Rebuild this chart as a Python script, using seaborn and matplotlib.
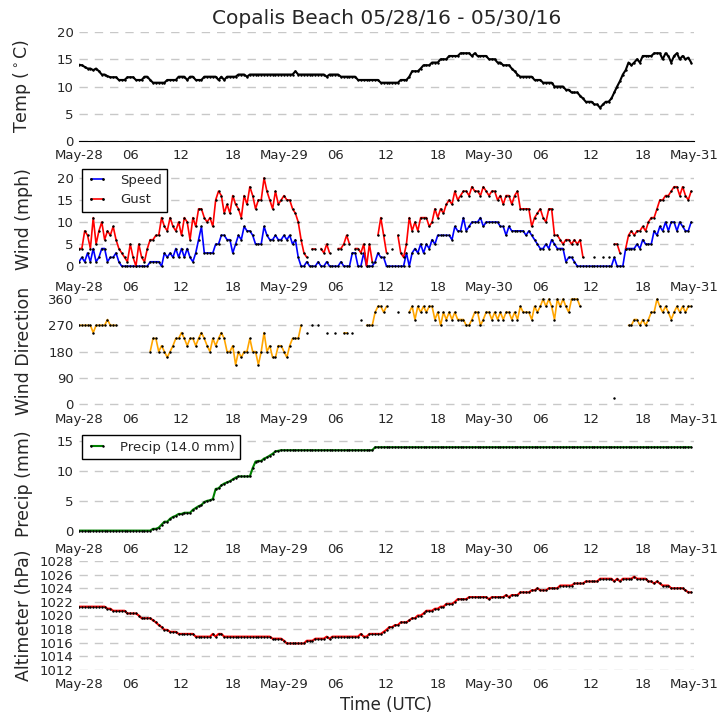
import numpy as np
import pandas as pd
import matplotlib
matplotlib.use('Agg')
import matplotlib.pyplot as plt
import matplotlib.dates as mdates
from matplotlib.lines import Line2D
import seaborn as sns

nan = np.nan

# 20-minute observations, May-28 00:00 UTC to May-30 23:40 UTC, one line = 6 hours
temp = [
    14.0, 13.9, 13.6, 13.3, 13.3, 13.0, 13.3, 12.8, 12.2, 12.2, 11.9, 11.7, 11.7, 11.7, 11.2, 11.2, 11.2, 11.7,
    11.7, 11.7, 11.2, 11.2, 11.2, 11.8, 11.8, 11.2, 10.7, 10.7, 10.7, 10.7, 10.7, 11.2, 11.2, 11.2, 11.2, 11.8,
    11.8, 11.8, 11.2, 11.8, 11.8, 11.2, 11.2, 11.2, 11.8, 11.8, 11.8, 11.8, 11.8, 11.2, 11.8, 11.2, 11.8, 11.8,
    11.8, 11.8, 12.2, 12.2, 12.2, 11.8, 12.2, 12.2, 12.2, 12.2, 12.2, 12.2, 12.2, 12.2, 12.2, 12.2, 12.2, 12.2,
    12.2, 12.2, 12.2, 12.2, 12.8, 12.2, 12.2, 12.2, 12.2, 12.2, 12.2, 12.2, 12.2, 12.2, 12.2, 11.8, 12.2, 12.2,
    12.2, 12.2, 11.8, 11.8, 11.8, 11.8, 11.8, 11.8, 11.2, 11.2, 11.2, 11.2, 11.2, 11.2, 11.2, 11.2, 10.7, 10.7,
    10.7, 10.7, 10.7, 10.7, 10.7, 11.2, 11.2, 11.2, 11.8, 12.8, 12.8, 12.8, 13.3, 13.9, 13.9, 13.9, 14.4, 14.4,
    14.4, 15.0, 15.0, 15.0, 15.6, 15.6, 15.6, 15.6, 16.1, 16.1, 16.1, 16.1, 15.6, 16.1, 15.6, 15.6, 15.6, 15.6,
    15.0, 15.0, 15.0, 14.4, 14.4, 13.9, 13.9, 13.9, 13.3, 12.8, 12.2, 11.8, 11.8, 11.8, 11.8, 11.8, 11.2, 11.2,
    11.2, 10.7, 10.7, 10.7, 10.7, 10.0, 10.0, 10.0, 10.0, 9.4, 9.4, 8.9, 8.9, 8.9, 8.3, 7.8, 7.2, 7.2,
    7.2, 6.7, 6.7, 6.1, 6.7, 7.2, 7.2, 7.8, 8.9, 10.0, 11.0, 12.2, 13.0, 14.4, 13.9, 14.4, 15.0, 14.4,
    15.6, 15.6, 15.6, 15.6, 16.1, 16.1, 16.1, 15.0, 16.1, 15.6, 14.4, 15.6, 16.1, 15.0, 15.6, 15.0, 15.3, 14.4,
]

speed = [
    1, 2, 1, 3, 1, 4, 1, 2, 4, 4, 1, 2, 2, 3, 1, 0, 0, 0,
    0, 0, 0, 0, 0, 0, 0, 1, 1, 1, 1, 0, 3, 2, 3, 2, 4, 2,
    4, 2, 4, 2, 1, 3, 6, 9, 3, 3, 3, 3, 5, 5, 7, 7, 6, 6,
    3, 5, 7, 6, 9, 8, 8, 7, 5, 5, 5, 9, 7, 6, 6, 7, 6, 6,
    7, 6, 7, 5, 6, 2, 0, 0, 1, 0, 0, 0, 1, 0, 0, 1, 0, 0,
    0, 0, 1, 0, 0, 0, 3, 3, 0, 0, 3, 0, 0, 0, 1, 3, 2, 2,
    0, 0, 0, 0, 0, 0, 0, 3, 0, 3, 4, 3, 5, 3, 5, 4, 6, 5,
    7, 7, 7, 7, 7, 6, 9, 8, 8, 11, 8, 9, 10, 10, 10, 11, 9, 10,
    10, 10, 10, 10, 9, 9, 7, 9, 8, 8, 8, 8, 8, 7, 8, 7, 6, 5,
    4, 4, 5, 4, 6, 5, 4, 4, 4, 1, 2, 2, 1, 0, 0, 0, 0, 0,
    0, 0, 0, 0, 0, 0, 0, 0, 2, 0, 0, 0, 4, 4, 4, 4, 5, 4,
    6, 5, 5, 5, 8, 7, 9, 8, 10, 8, 10, 10, 8, 10, 9, 8, 8, 10,
]

gust = [
    4, 4, 8, 7, 4, 11, 5, 8, 10, 6, 8, 7, 9, 6, 4, 3, 2, 1,
    5, 2, 0, 5, 2, 1, 4, 6, 6, 7, 7, 11, 9, 8, 11, 9, 8, 10,
    7, 11, 10, 6, 11, 9, 13, 13, 11, 10, 11, 9, 15, 17, 16, 12, 14, 12,
    16, 14, 13, 11, 16, 14, 18, 16, 13, 15, 15, 20, 17, 15, 13, 17, 14, 15,
    16, 15, 15, 13, 12, 10, 6, 3, 2, nan, 4, 4, nan, 4, 3, 5, 3, nan,
    nan, 4, 4, 5, 7, 5, nan, 4, 4, 3, 5, 0, 5, 1, nan, 7, 11, 7,
    3, nan, 4, nan, 7, 3, 2, 5, 11, 8, 10, 8, 11, 11, 11, 9, 10, 13,
    11, 13, 12, 14, 15, 14, 17, 15, 16, 17, 17, 16, 18, 17, 17, 16, 18, 17,
    16, 17, 17, 15, 16, 14, 16, 16, 14, 16, 17, 13, 13, 13, 13, 9, 11, 12,
    13, 11, 10, 13, 13, 7, 7, 6, 5, 6, 6, 5, 6, 5, 6, 2, nan, nan,
    nan, 2, nan, nan, 2, nan, 2, nan, 5, 5, 3, nan, 4, 7, 8, 7, 8, 8,
    9, 8, 10, 11, 11, 13, 15, 15, 16, 16, 17, 18, 18, 16, 18, 16, 15, 17,
]

wdir = [
    270, 270, 270, 270, 270, 245, 270, 270, 270, 270, 290, 270, 270, 270, nan, nan, nan, nan,
    nan, nan, nan, nan, nan, nan, nan, 180, 225, 225, 180, 200, 180, 160, 180, 200, 225, 225,
    245, 225, 200, 225, 225, 200, 225, 245, 225, 200, 180, 225, 200, 225, 245, 225, 180, 180,
    200, 135, 180, 160, 180, 180, 225, 180, 180, 135, 180, 245, 180, 200, 160, 160, 200, 200,
    180, 160, 200, 225, 225, 225, 270, nan, 245, nan, 270, nan, 270, nan, nan, 245, nan, nan,
    245, nan, nan, 245, 245, nan, 245, nan, nan, 290, nan, 270, 270, 270, 315, 335, 335, 315,
    335, nan, nan, nan, 315, nan, nan, nan, 315, 335, 290, 335, 315, 335, 315, 335, 335, 290,
    315, 270, 315, 290, 315, 290, 315, 290, 290, 290, 270, 270, 290, 315, 315, 270, 290, 315,
    315, 290, 315, 290, 315, 290, 315, 315, 290, 315, 290, 335, 315, 315, 315, 290, 335, 315,
    335, 360, 335, 360, 335, 290, 360, 335, 360, 335, 315, 360, 360, 360, 335, nan, nan, nan,
    nan, nan, nan, nan, nan, nan, nan, nan, 22, nan, nan, nan, nan, 270, 270, 290, 290, 270,
    290, 270, 290, 315, 315, 360, 335, 315, 335, 315, 290, 315, 335, 315, 335, 315, 335, 335,
]

precip = (
    [0.0] * 18
    + [0.0, 0.0, 0.0, 0.0, 0.0, 0.0, 0.0, 0.0, 0.3, 0.3, 0.5, 1.0, 1.5, 1.5, 2.0, 2.3, 2.5, 2.8]
    + [2.8, 3.0, 3.0, 3.0, 3.5, 3.8, 4.1, 4.3, 4.8, 5.0, 5.1, 5.3, 7.0, 7.1, 7.6, 7.9, 8.1, 8.3]
    + [8.6, 8.9, 9.1, 9.1, 9.1, 9.1, 9.1, 10.5, 11.6, 11.7, 11.7, 12.1, 12.3, 12.6, 12.9, 13.3, 13.4, 13.5]
    + [13.5] * 18
    + [13.5] * 14 + [14.0] * 4
    + [14.0] * 108
)

altim = [
    1021.3, 1021.3, 1021.3, 1021.3, 1021.3, 1021.3, 1021.3, 1021.3, 1021.3, 1021.3, 1021.0, 1021.0, 1020.7, 1020.7, 1020.7, 1020.7, 1020.7, 1020.3,
    1020.3, 1020.3, 1020.3, 1020.0, 1019.6, 1019.6, 1019.6, 1019.6, 1019.3, 1019.0, 1018.6, 1018.3, 1017.9, 1017.9, 1017.6, 1017.6, 1017.6, 1017.3,
    1017.3, 1017.3, 1017.3, 1017.3, 1017.3, 1016.9, 1016.9, 1016.9, 1016.9, 1016.9, 1016.9, 1017.3, 1016.9, 1017.3, 1017.3, 1016.9, 1016.9, 1016.9,
    1016.9, 1016.9, 1016.9, 1016.9, 1016.9, 1016.9, 1016.9, 1016.9, 1016.9, 1016.9, 1016.9, 1016.9, 1016.9, 1016.9, 1016.6, 1016.6, 1016.6, 1016.6,
    1016.3, 1015.9, 1015.9, 1015.9, 1015.9, 1015.9, 1015.9, 1015.9, 1016.3, 1016.3, 1016.3, 1016.6, 1016.6, 1016.6, 1016.6, 1016.9, 1016.6, 1016.9,
    1016.9, 1016.9, 1016.9, 1016.9, 1016.9, 1016.9, 1016.9, 1016.9, 1016.9, 1017.3, 1016.9, 1016.9, 1017.3, 1017.3, 1017.3, 1017.3, 1017.3, 1017.6,
    1017.9, 1018.3, 1018.3, 1018.6, 1018.6, 1019.0, 1019.0, 1019.0, 1019.3, 1019.6, 1019.6, 1020.0, 1020.0, 1020.3, 1020.7, 1020.7, 1020.7, 1021.0,
    1021.0, 1021.3, 1021.3, 1021.7, 1021.7, 1021.7, 1022.0, 1022.4, 1022.4, 1022.4, 1022.4, 1022.7, 1022.7, 1022.7, 1022.7, 1022.7, 1022.7, 1022.7,
    1022.4, 1022.7, 1022.7, 1022.7, 1022.7, 1022.7, 1023.0, 1022.7, 1023.0, 1023.0, 1023.0, 1023.4, 1023.4, 1023.4, 1023.4, 1023.7, 1023.7, 1024.0,
    1023.7, 1023.7, 1023.7, 1024.0, 1024.0, 1024.0, 1024.0, 1024.4, 1024.4, 1024.4, 1024.4, 1024.4, 1024.7, 1024.7, 1024.7, 1024.7, 1025.0, 1025.0,
    1025.0, 1025.0, 1025.0, 1025.4, 1025.4, 1025.4, 1025.4, 1025.4, 1025.0, 1025.4, 1025.0, 1025.4, 1025.4, 1025.4, 1025.4, 1025.7, 1025.4, 1025.4,
    1025.4, 1025.4, 1025.0, 1025.0, 1024.7, 1025.0, 1024.7, 1024.4, 1024.4, 1024.4, 1024.0, 1024.0, 1024.0, 1024.0, 1024.0, 1023.7, 1023.4, 1023.4,
]

times = pd.date_range('2016-05-28 00:00', periods=len(temp), freq='20min')
df = pd.DataFrame({'time': times, 'temp': temp, 'speed': speed, 'gust': gust,
                   'wdir': wdir, 'precip': precip, 'altim': altim})

sns.set_style('white')
plt.rcParams['font.family'] = ['DejaVu Sans']

fig = plt.figure(figsize=(7.27, 7.25), dpi=100)

# axes rectangles in figure pixels (bottom from top edge), equal spacing
left, width, height = 79 / 727, 615 / 727, 109 / 725
bottoms = [141, 273.25, 405.5, 537.75, 670]
axes = [fig.add_axes([left, 1 - b / 725, width, height]) for b in bottoms]

mk = dict(marker='.', markersize=2, markerfacecolor='k', markeredgecolor='k')


def gapped(ax, col, color, lw=1.2):
    # missing obs break the line: one seaborn unit per unbroken run
    d = df[['time', col]].copy()
    d['run'] = d[col].isna().cumsum()
    d = d.dropna()
    sns.lineplot(data=d, x='time', y=col, units='run', estimator=None, ax=ax,
                 color=color, lw=lw, legend=False, **mk)


def tick_fmt(x, pos=None):
    d = mdates.num2date(x)
    if d.hour == 0:
        return d.strftime('%b-%d')
    return d.strftime('%H')


leg_kw = dict(loc='upper left', borderaxespad=0, numpoints=2, fancybox=False,
              framealpha=1, edgecolor='k', fontsize=9.5, handlelength=1.5, handletextpad=1.0)

# temperature
ax = axes[0]
sns.lineplot(data=df, x='time', y='temp', ax=ax, color='k', lw=1.5, **mk)
ax.set_ylim(0, 20)
ax.set_yticks([0, 5, 10, 15, 20])
ax.set_ylabel('Temp ($^\\circ$C)', fontsize=12.5)
ax.set_title('Copalis Beach 05/28/16 - 05/30/16', fontsize=14.5, pad=6)

# wind speed / gust
ax = axes[1]
gapped(ax, 'speed', 'blue')
gapped(ax, 'gust', 'red')
ax.set_ylim(-1.6, 23.1)
ax.set_yticks([0, 5, 10, 15, 20])
ax.set_ylabel('Wind (mph)', fontsize=12.5)
handles = [Line2D([], [], color=c, lw=1.2, **mk) for c in ['blue', 'red']]
ax.legend(handles, ['Speed', 'Gust'], bbox_to_anchor=(0.005, 0.96), **leg_kw)

# wind direction
ax = axes[2]
gapped(ax, 'wdir', 'orange')
ax.set_ylim(-5, 369)
ax.set_yticks([0, 90, 180, 270, 360])
ax.set_ylabel('Wind Direction', fontsize=12.5)

# precipitation
ax = axes[3]
sns.lineplot(data=df, x='time', y='precip', ax=ax, color='green', lw=1.5,
             label='Precip (%.1f mm)' % precip[-1], **mk)
ax.set_ylim(-1.2, 17.1)
ax.set_yticks([0, 5, 10, 15])
ax.set_ylabel('Precip (mm)', fontsize=12.5)
ax.legend(bbox_to_anchor=(0.005, 0.94), **leg_kw)

# altimeter
ax = axes[4]
sns.lineplot(data=df, x='time', y='altim', ax=ax, color='red', lw=1.5, **mk)
ax.set_ylim(1012, 1028)
ax.set_yticks(np.arange(1012, 1029, 2))
ax.set_ylabel('Altimeter (hPa)', fontsize=12.5)
ax.set_xlabel('Time (UTC)', fontsize=12)

for i, ax in enumerate(axes):
    ax.set_xlim(pd.Timestamp('2016-05-28 00:00'), pd.Timestamp('2016-05-31 00:00'))
    ax.xaxis.set_major_locator(mdates.HourLocator(byhour=[0, 6, 12, 18]))
    ax.xaxis.set_major_formatter(plt.FuncFormatter(tick_fmt))
    ax.tick_params(length=0, labelsize=9.5, pad=4)
    ax.tick_params(axis='x', pad=4 if i == 3 else 5.5)
    ax.yaxis.grid(True, color='#c8c8c8', linestyle=(0, (6, 5)), lw=1)
    ax.xaxis.grid(False)
    for s in ax.spines.values():
        s.set_visible(False)
    if i == 0:
        ax.spines['bottom'].set_visible(True)
        ax.spines['bottom'].set_color('k')
    if i != 4:
        ax.set_xlabel('')
    ax.yaxis.set_label_coords(-0.075, 0.5)

fig.savefig('out.png', dpi=100)
